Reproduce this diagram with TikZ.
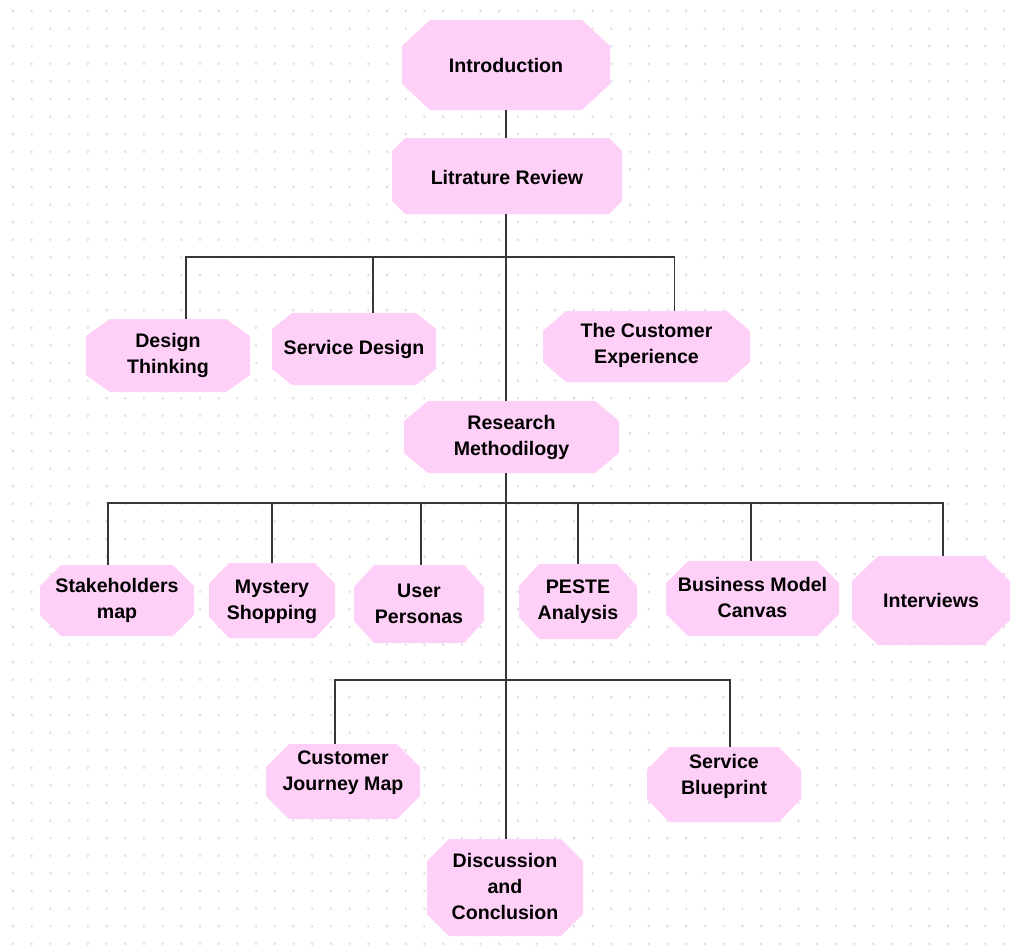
\documentclass[tikz,border=0pt]{standalone}
\usepackage{fontspec}
\setmainfont{Liberation Sans}

\definecolor{boxpink}{RGB}{255,208,247}
\definecolor{dotgray}{RGB}{218,218,224}
\definecolor{linegray}{RGB}{55,55,55}

% chamfered box: name, x, y, width, height, cut x, cut y, text shift, text
\newcommand{\topicbox}[9]{%
  \fill[boxpink] (#2-#4/2+#6,#3-#5/2) -- (#2+#4/2-#6,#3-#5/2) -- (#2+#4/2,#3-#5/2+#7)
    -- (#2+#4/2,#3+#5/2-#7) -- (#2+#4/2-#6,#3+#5/2) -- (#2-#4/2+#6,#3+#5/2)
    -- (#2-#4/2,#3+#5/2-#7) -- (#2-#4/2,#3-#5/2+#7) -- cycle;
  \node[box node,minimum width=#4,minimum height=#5] (#1) at (#2,#3) {};
  \node[text node] (#1-t) at ({#2},{#3+#8}) {#9};
}

\begin{document}
\begin{tikzpicture}[x=1pt,y=-1pt,
  box node/.style={rectangle,inner sep=0pt,outer sep=0pt},
  text node/.style={align=center,inner sep=0pt,text=black,
    font=\fontsize{19.6}{26}\selectfont\bfseries},
  link/.style={draw=linegray,line width=1.4pt}]

  \useasboundingbox (0,0) rectangle (1016,951);
  \fill[white] (0,0) rectangle (1016,951);
  % dotted grid
  \foreach \x in {13,31.7,...,1012}
    \foreach \y in {11,28.6,...,948}
      \fill[dotgray] (\x,\y) circle[radius=1.3];

  \topicbox{intro}{506}{65}{208}{90}{28}{26}{0}{Introduction}
  \topicbox{lit}{507}{176}{230}{76}{13}{13}{1}{Litrature Review}
  \topicbox{dt}{168}{355.5}{164}{73}{24}{17}{0}{Design\\Thinking}
  \topicbox{sd}{354}{349}{164}{72}{20}{16}{0}{Service Design}
  \topicbox{ce}{646.5}{346.5}{207}{71}{23}{20}{-1}{The Customer\\Experience}
  \topicbox{rm}{511.5}{437}{215}{72}{24}{20}{0}{Research\\Methodilogy}
  \topicbox{sm}{117}{600.5}{154}{71}{21}{21}{0}{Stakeholders\\map}
  \topicbox{ms}{272}{600.5}{126}{75}{20}{21}{1}{Mystery\\Shopping}
  \topicbox{up}{419}{604}{130}{78}{20}{22}{0}{User\\Personas}
  \topicbox{pe}{578}{601.5}{118}{75}{20}{22}{0}{PESTE\\Analysis}
  \topicbox{bmc}{752.5}{598.5}{173}{75}{22}{22}{-1}{Business Model\\Canvas}
  \topicbox{iv}{931}{600.5}{158}{89}{26}{25}{0}{Interviews}
  \topicbox{cjm}{343}{781.5}{154}{75}{23}{23}{-9}{Customer\\Journey Map}
  \topicbox{sb}{724}{784.5}{154}{75}{22}{23}{-8}{Service\\Blueprint}
  \topicbox{disc}{505}{887.5}{156}{97}{22}{22}{-1}{Discussion\\and\\Conclusion}

  \coordinate (bus2) at (506,257);
  \coordinate (bus3) at (506,503);
  \coordinate (bus4) at (506,680);

  % main line
  \draw[link] (intro.south) -- (intro.south |- lit.north);
  \draw[link] (intro.south |- lit.south) -- (intro.south |- rm.north);
  \draw[link] (intro.south |- rm.south) -- (intro.south |- disc.north);

  \draw[link] ([xshift=18pt]dt.north) |- (bus2);
  \draw[link] ([xshift=19pt]sd.north) |- (bus2);
  \draw[link] ([xshift=28pt]ce.north) |- (bus2);

  \draw[link] ([xshift=-9pt]sm.north) |- (bus3);
  \draw[link] (ms.north) |- (bus3);
  \draw[link] ([xshift=2pt]up.north) |- (bus3);
  \draw[link] (pe.north) |- (bus3);
  \draw[link] ([xshift=-1.5pt]bmc.north) |- (bus3);
  \draw[link] ([xshift=12pt]iv.north) |- (bus3);

  \draw[link] ([xshift=-8pt]cjm.north) |- (bus4);
  \draw[link] ([xshift=6pt]sb.north) |- (bus4);
\end{tikzpicture}
\end{document}
